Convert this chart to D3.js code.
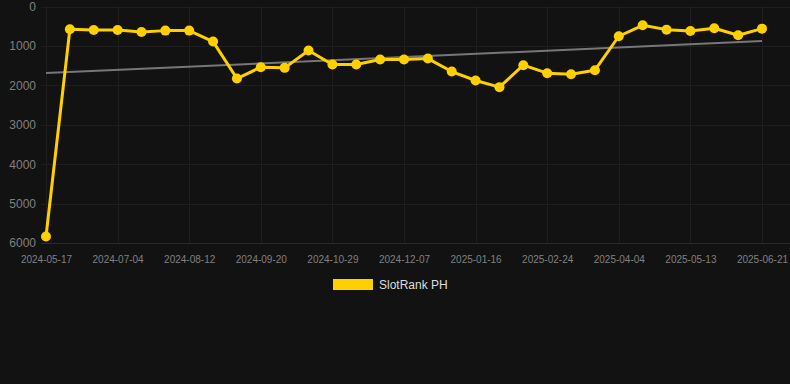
<!DOCTYPE html>
<html><head><meta charset="utf-8">
<script src="https://cdn.jsdelivr.net/npm/d3@7"></script>
<style>html,body{margin:0;padding:0;background:#121212;}svg{display:block;}</style>
</head><body>
<svg id="c" width="790" height="384"></svg>
<script>
const dates = ["2024-05-17","2024-06-02","2024-06-18","2024-07-04","2024-07-17","2024-07-30","2024-08-12","2024-08-25","2024-09-07","2024-09-20","2024-10-03","2024-10-16","2024-10-29","2024-11-11","2024-11-24","2024-12-07","2024-12-20","2025-01-03","2025-01-16","2025-01-29","2025-02-11","2025-02-24","2025-03-09","2025-03-22","2025-04-04","2025-04-17","2025-04-30","2025-05-13","2025-05-26","2025-06-08","2025-06-21"];
const ranks = [5835,577,595,595,645,612,612,890,1828,1540,1557,1118,1473,1473,1346,1346,1321,1650,1878,2046,1489,1692,1717,1616,755,477,587,620,553,730,562];
const yTicks = [0,1000,2000,3000,4000,5000,6000];
const seriesName = "SlotRank PH";

const svg = d3.select("#c");
const x = d3.scalePoint().domain(dates).range([46, 762]);
const y = d3.scaleLinear().domain([0, 6000]).range([6.5, 243]);
const xTickVals = dates.filter((d, i) => i % 3 === 0);

// grid
svg.append("g").selectAll("line").data(yTicks).join("line")
  .attr("x1", 41).attr("x2", 790).attr("y1", d => Math.round(y(d)) + 0.5).attr("y2", d => Math.round(y(d)) + 0.5)
  .attr("stroke", d => d === 6000 ? "#2a2a2a" : "#1e1e1e").attr("stroke-width", 1);
svg.append("g").selectAll("line").data(xTickVals).join("line")
  .attr("x1", d => Math.round(x(d)) + 0.5).attr("x2", d => Math.round(x(d)) + 0.5).attr("y1", 6.5).attr("y2", 243)
  .attr("stroke", "#1e1e1e").attr("stroke-width", 1);

// axes labels
const yAxis = svg.append("g").attr("transform", "translate(40,0)")
  .call(d3.axisLeft(y).tickValues(yTicks).tickSize(0).tickPadding(4).tickFormat(d3.format("d")));
yAxis.select(".domain").remove();
yAxis.selectAll("text").attr("fill", "#808080").attr("font-size", "12px").attr("font-family", "Arial, 'Liberation Sans', sans-serif");

const xAxis = svg.append("g").attr("transform", "translate(0,250)")
  .call(d3.axisBottom(x).tickValues(xTickVals).tickSize(0).tickPadding(6));
xAxis.select(".domain").remove();
xAxis.selectAll("text").attr("fill", "#808080").attr("font-size", "10px").attr("font-family", "Arial, 'Liberation Sans', sans-serif");

// trend line (least squares over the series)
const n = ranks.length;
const xs = d3.range(n);
const mx = d3.mean(xs), my = d3.mean(ranks);
const slope = d3.sum(xs, i => (i - mx) * (ranks[i] - my)) / d3.sum(xs, i => (i - mx) ** 2);
const icpt = my - slope * mx;
svg.append("line")
  .attr("x1", x(dates[0])).attr("y1", y(icpt))
  .attr("x2", x(dates[n - 1])).attr("y2", y(icpt + slope * (n - 1)))
  .attr("stroke", "#777").attr("stroke-width", 2);

// series
const line = d3.line().x((d, i) => x(dates[i])).y(d => y(d));
svg.append("path").datum(ranks).attr("d", line)
  .attr("fill", "none").attr("stroke", "#ffd000").attr("stroke-width", 3).attr("stroke-linejoin", "round");
svg.append("g").selectAll("circle").data(ranks).join("circle")
  .attr("cx", (d, i) => x(dates[i])).attr("cy", d => y(d)).attr("r", 5)
  .attr("fill", "#ffd000");

// legend
const lg = svg.append("g");
lg.append("rect").attr("x", 333).attr("y", 279).attr("width", 40).attr("height", 11).attr("fill", "#ffd000");
lg.append("text").attr("x", 379).attr("y", 289).text(seriesName)
  .attr("fill", "#dddddd").attr("font-size", "12px").attr("font-family", "Arial, 'Liberation Sans', sans-serif");
</script>
</body></html>
